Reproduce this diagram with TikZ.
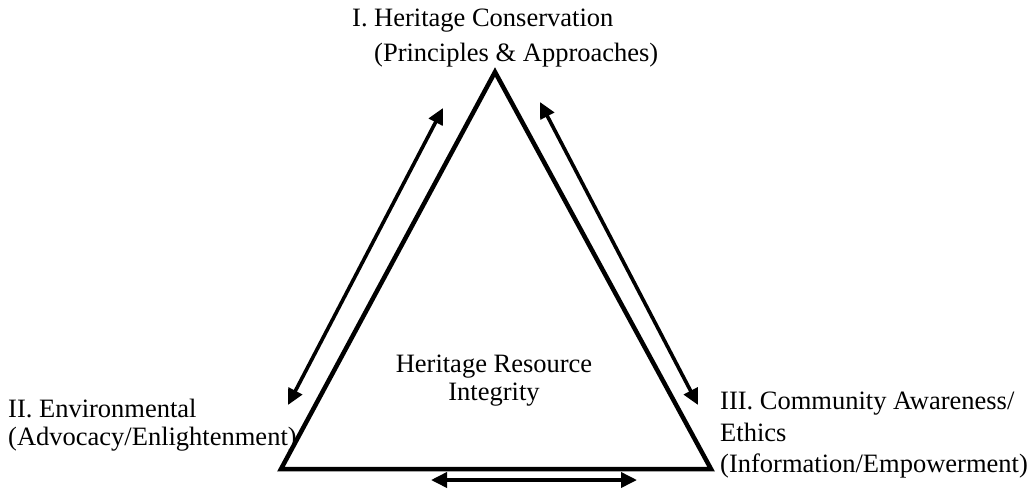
\documentclass[tikz,border=0pt]{standalone}
\usepackage{fontspec}
\setmainfont{Liberation Serif}
\usetikzlibrary{arrows.meta}
\begin{document}
\begin{tikzpicture}[x=1pt,y=-1pt,
  lbl/.style={anchor=base west, inner sep=0pt, font=\fontsize{26.5}{32}\selectfont},
  ctr/.style={anchor=base, inner sep=0pt, font=\fontsize{26.5}{32}\selectfont},
  tri/.style={line width=4.5pt, line join=miter},
  dbl/.style={line width=3.6pt, {Triangle[length=16pt,width=15pt]}-{Triangle[length=16pt,width=15pt]}}]
\useasboundingbox (0,0) rectangle (1031,488);
% triangle
\coordinate (A) at (495,72);
\coordinate (B) at (281,469);
\coordinate (C) at (711,469);
\draw[tri] (A) -- (B) -- (C) -- cycle;
% arrows
\coordinate (l1) at (443,108);
\coordinate (l2) at (288,405);
\coordinate (r1) at (540,102);
\coordinate (r2) at (698,405);
\coordinate (b1) at (431,480);
\coordinate (b2) at (637,480);
\draw[dbl] (l1) -- (l2);
\draw[dbl] (r1) -- (r2);
\draw[dbl] (b1) -- (b2);
% labels
\node[lbl] (t0) at (352,26) {I.};
\node[lbl] (t1) at (374,26) {Heritage Conservation};
\node[lbl] (t2) at (374,61) {(Principles \& Approaches)};
\node[lbl] (e1) at (8,417) {II. Environmental};
\node[lbl] (e2) at (8,445) {(Advocacy/Enlightenment)};
\node[lbl] (c1) at (720,409) {III. Community Awareness/};
\node[lbl] (c2) at (720,441) {Ethics};
\node[lbl] (c3) at (720,472) {(Information/Empowerment)};
\node[ctr] (h1) at (494,372) {Heritage Resource};
\node[ctr] (h2) at (494,400) {Integrity};
\end{tikzpicture}
\end{document}
